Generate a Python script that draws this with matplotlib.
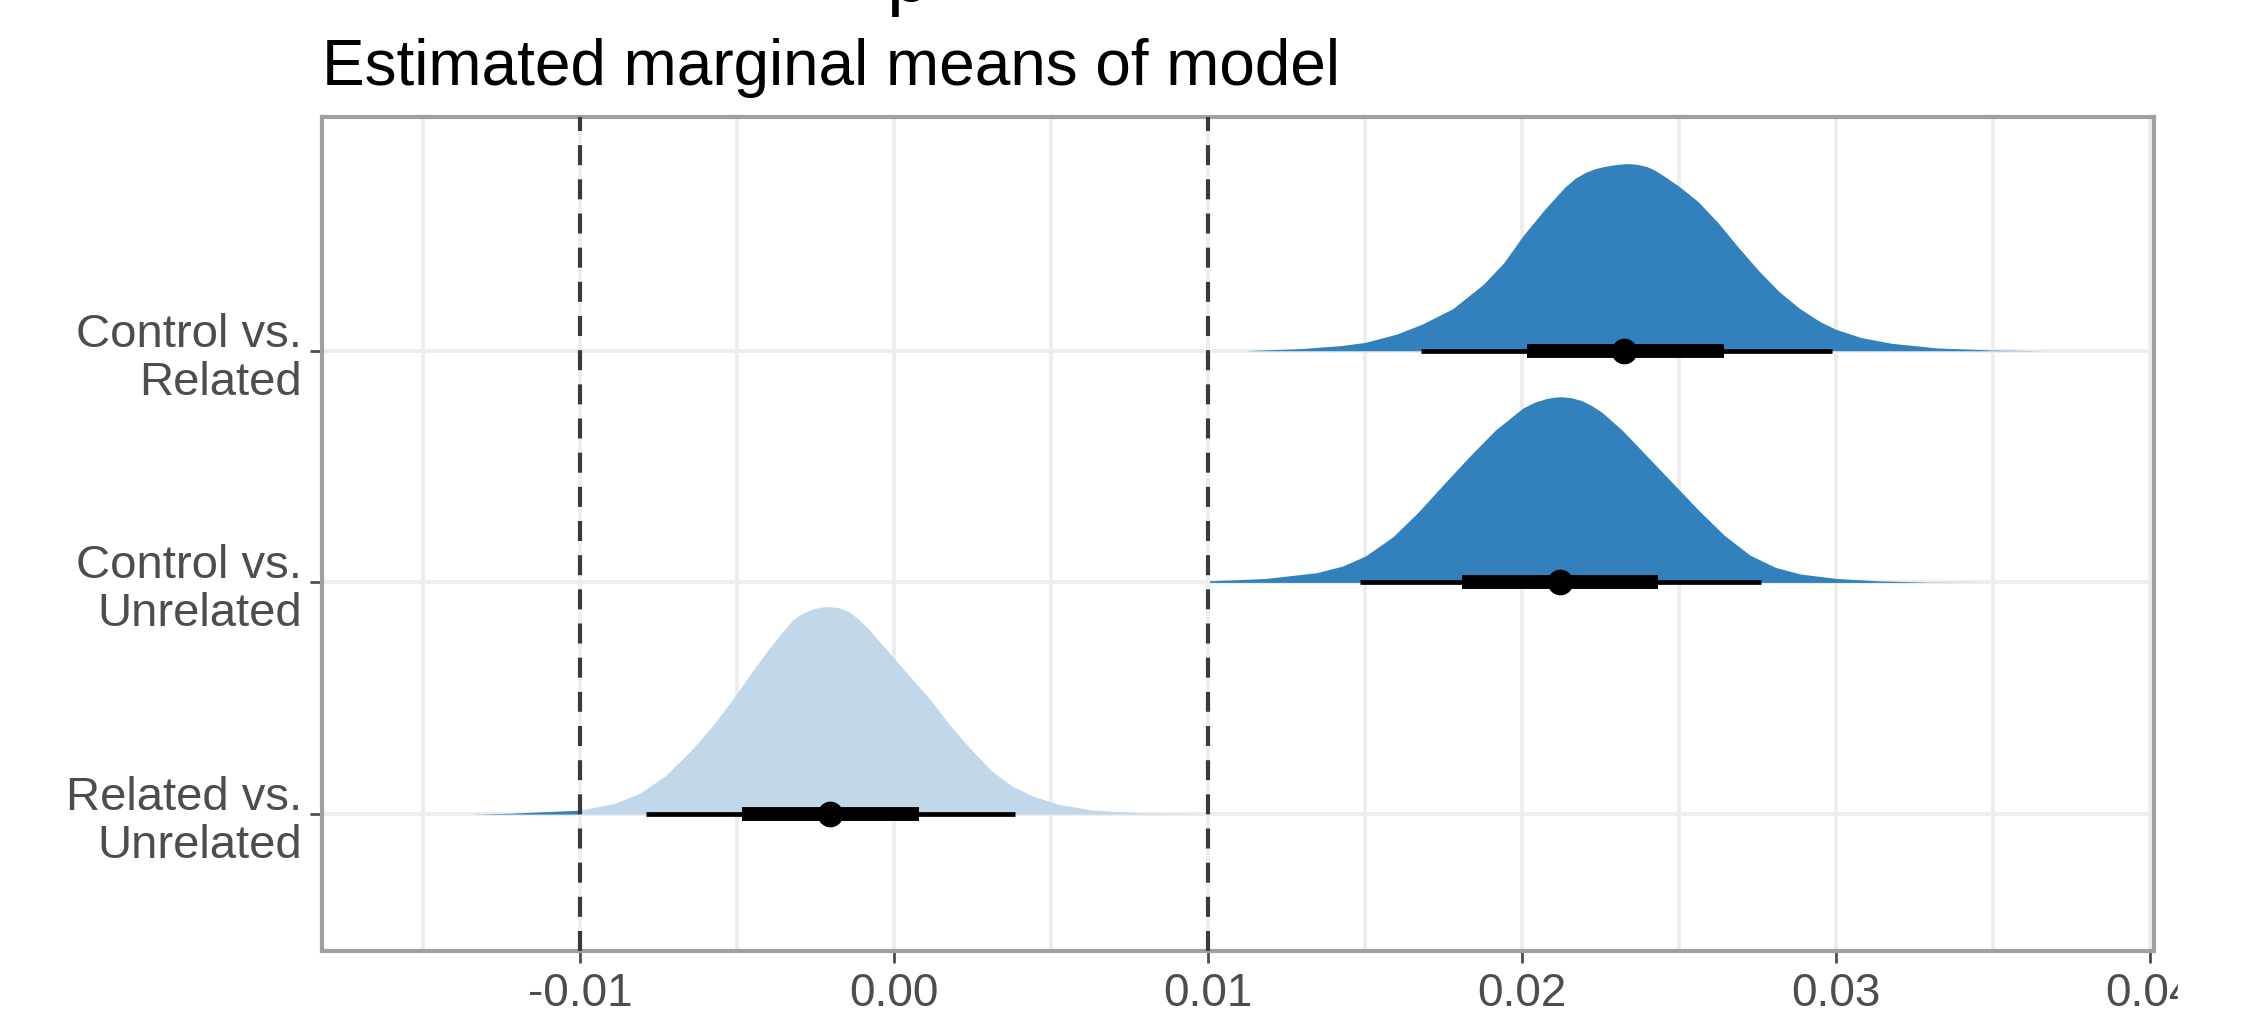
import matplotlib

matplotlib.use("Agg")
import matplotlib.pyplot as plt
import numpy as np
from matplotlib.patches import Rectangle
from matplotlib.ticker import FixedLocator, MultipleLocator

plt.rcParams["font.family"] = ["Liberation Sans", "DejaVu Sans"]

# contrasts, top row first
contrasts = ["Control vs.\nRelated", "Control vs.\nUnrelated", "Related vs.\nUnrelated"]
rows = [3, 2, 1]

# point estimate, 66% and 95% intervals
medians = [0.02326, 0.02122, -0.00205]
lo66 = [0.02016, 0.01808, -0.00485]
hi66 = [0.02645, 0.02433, 0.00078]
lo95 = [0.01679, 0.01484, -0.00789]
hi95 = [0.02986, 0.02761, 0.00386]

# slab outlines (x, height in row units)
cvr_x = [0.01129, 0.01292, 0.01422, 0.01500, 0.01601, 0.01682, 0.01780, 0.01877, 0.01942,
         0.02004, 0.02072, 0.02137, 0.02170, 0.02202, 0.02235, 0.02268, 0.02300, 0.02333,
         0.02366, 0.02398, 0.02422, 0.02446, 0.02500, 0.02560, 0.02625, 0.02690, 0.02755,
         0.02820, 0.02885, 0.02950, 0.02999, 0.03080, 0.03178, 0.03324, 0.03500, 0.03666]
cvr_h = [0.001, 0.009, 0.022, 0.036, 0.072, 0.115, 0.182, 0.287, 0.380,
         0.498, 0.610, 0.707, 0.745, 0.770, 0.787, 0.797, 0.804, 0.808,
         0.805, 0.795, 0.780, 0.760, 0.710, 0.645, 0.552, 0.445, 0.344,
         0.254, 0.182, 0.125, 0.093, 0.057, 0.032, 0.012, 0.003, 0.0]

cvu_x = [0.01005, 0.01183, 0.01346, 0.01427, 0.01500, 0.01589, 0.01670, 0.01752, 0.01833,
         0.01914, 0.02003, 0.02040, 0.02076, 0.02100, 0.02125, 0.02158, 0.02190, 0.02222,
         0.02255, 0.02320, 0.02401, 0.02482, 0.02563, 0.02644, 0.02726, 0.02807, 0.02888,
         0.03002, 0.03131, 0.03294, 0.03472]
cvu_h = [0.007, 0.017, 0.042, 0.070, 0.113, 0.197, 0.304, 0.426, 0.544,
         0.656, 0.753, 0.778, 0.793, 0.799, 0.802, 0.797, 0.785, 0.763,
         0.734, 0.656, 0.541, 0.426, 0.311, 0.204, 0.118, 0.065, 0.036,
         0.017, 0.007, 0.001, 0.0]

rvu_x = [-0.01346, -0.01216, -0.01086, -0.01000, -0.00891, -0.00810, -0.00729, -0.00648,
         -0.00583, -0.00518, -0.00453, -0.00388, -0.00323, -0.00290, -0.00258, -0.00234,
         -0.00209, -0.00177, -0.00144, -0.00112, -0.00079, -0.00015, 0.00050, 0.00115,
         0.00180, 0.00245, 0.00310, 0.00375, 0.00440, 0.00521, 0.00635, 0.00797, 0.00992]
rvu_h = [0.0, 0.004, 0.012, 0.017, 0.046, 0.090, 0.165, 0.273,
         0.373, 0.488, 0.614, 0.732, 0.839, 0.868, 0.886, 0.893,
         0.896, 0.891, 0.875, 0.840, 0.796, 0.696, 0.595, 0.495,
         0.380, 0.280, 0.187, 0.122, 0.079, 0.043, 0.017, 0.004, 0.0]

rope = [-0.01, 0.01]
x_ticks = [-0.01, 0.00, 0.01, 0.02, 0.03, 0.04]

DARK = "#3281BD"
LIGHT = "#C1D8EB"
TEXT = "#4D4D4D"


def _draw_slab(ax, y0, xs, hs):
    xs = np.asarray(xs)
    hs = np.asarray(hs)
    inside = (xs >= rope[0]) & (xs <= rope[1])
    outside = (xs <= rope[0]) | (xs >= rope[1])
    ax.fill_between(xs, y0, y0 + hs, where=outside, color=DARK, lw=0, zorder=2)
    ax.fill_between(xs, y0, y0 + hs, where=inside, color=LIGHT, lw=0, zorder=2)


def main() -> None:
    fig = plt.figure(figsize=(22.56, 10.12), dpi=100)
    ax = fig.add_axes([322 / 2256, 60 / 1012, 1832 / 2256, 834 / 1012])

    for y0, (xs, hs) in zip(rows, [(cvr_x, cvr_h), (cvu_x, cvu_h), (rvu_x, rvu_h)]):
        _draw_slab(ax, y0, xs, hs)

    for v in rope:
        ax.axvline(v, color="#3A3A3A", lw=3, ls=(0, (4.8, 3.4)), zorder=3)

    for i, y0 in enumerate(rows):
        ax.plot([lo95[i], hi95[i]], [y0, y0], color="black", lw=3.4,
                solid_capstyle="butt", zorder=4)
        ax.plot([lo66[i], hi66[i]], [y0, y0], color="black", lw=10,
                solid_capstyle="butt", zorder=5)
        ax.plot(medians[i], y0, "o", color="black", ms=18.5, mew=0, zorder=6)

    ax.set_xlim(-0.01822, 0.04013)
    ax.set_ylim(0.409, 4.009)

    ax.xaxis.set_major_locator(FixedLocator(x_ticks))
    ax.xaxis.set_minor_locator(MultipleLocator(0.005))
    ax.set_xticklabels([f"{t:.2f}" for t in x_ticks])
    ax.set_yticks(rows)
    ax.set_yticklabels(contrasts, linespacing=1.12, fontsize=34)

    ax.grid(True, which="both", axis="x", color="#EDEDED", lw=2.8)
    ax.grid(True, which="major", axis="y", color="#EDEDED", lw=2.8)
    ax.set_axisbelow(True)

    ax.tick_params(axis="both", which="major", length=8.5, width=2, color="#4D4D4D",
                   labelcolor=TEXT)
    ax.tick_params(axis="x", pad=6, labelsize=33)
    ax.tick_params(axis="y", pad=6)
    ax.tick_params(which="minor", length=0)
    for s in ax.spines.values():
        s.set_color("#A0A0A0")
        s.set_linewidth(3)

    fig.text(322 / 2256, 1 - 85 / 1012, "Estimated marginal means of model",
             fontsize=46, va="baseline", ha="left")
    # tail of the main title, clipped at the top edge
    fig.text(886 / 2256, 1 - 1 / 1012, "p", fontsize=55, va="baseline", ha="left")

    # the source picture is blank right of x = 2178 px
    fig.patches.append(Rectangle((2178 / 2256, 0), 1, 1, transform=fig.transFigure,
                                 color="white", zorder=10))

    fig.savefig("out.png", dpi=100)
    plt.close(fig)


if __name__ == "__main__":
    main()
